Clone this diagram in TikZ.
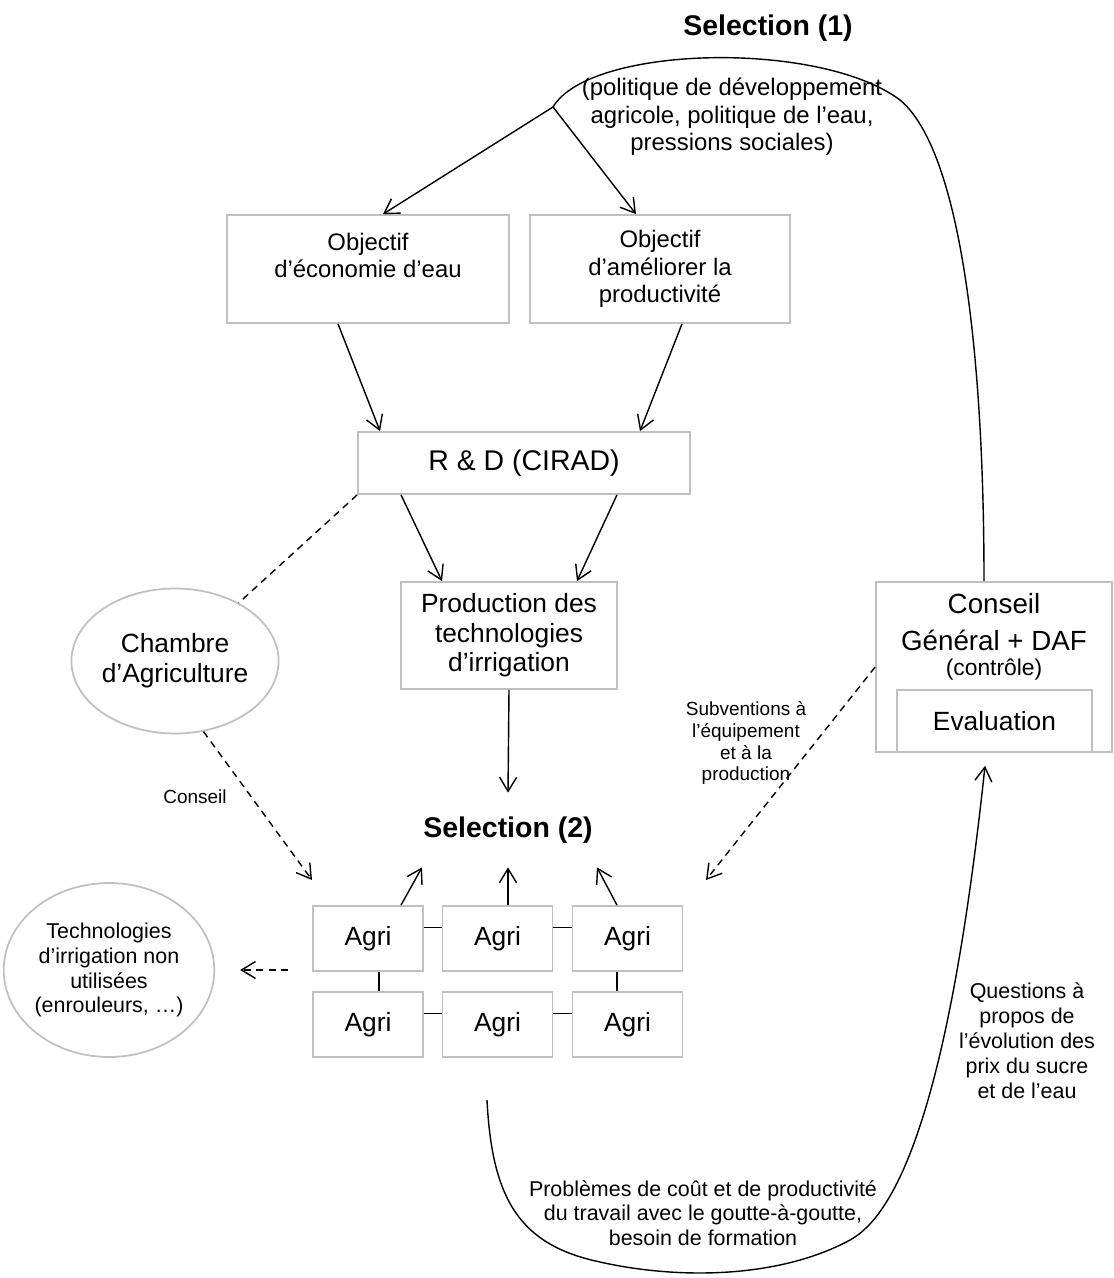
\documentclass[tikz,border=0pt]{standalone}
\usepackage{fontspec}
\setmainfont{Liberation Sans}
\usetikzlibrary{arrows.meta,shapes.geometric}

\definecolor{boxgray}{RGB}{192,192,192}
\newcommand{\fsz}[2]{\fontsize{#1}{#2}\selectfont}

\begin{document}
\begin{tikzpicture}[x=0.02cm,y=-0.02cm,
		box/.style={draw=boxgray,line width=1pt,align=center,inner sep=0pt},
		oval/.style={box,ellipse},
		agri/.style={box,minimum width=2.2cm,minimum height=1.3cm,font=\fsz{15}{17}},
		ttl/.style={font=\fsz{16.2}{19}\bfseries,align=center,inner sep=0pt},
		note/.style={font=\fsz{12.2}{14.2},align=center},
		small/.style={font=\fsz{10.8}{12.5},align=center},
		fl/.style={line width=0.8pt},
		arr/.style={fl,-{Straight Barb[length=0.28cm,width=0.34cm]}},
		dsh/.style={fl,dash pattern=on 4pt off 3pt},
		darr/.style={arr,dash pattern=on 4pt off 3pt}]
		\useasboundingbox (0,0) rectangle (1114,1278);
		\node[ttl] (sel1) at (768,28) {Selection (1)};
		\node[font=\fsz{13.6}{15.6},align=center] (pol) at (732,117) {(politique de développement\\agricole, politique de l’eau,\\pressions sociales)};
		\coordinate (br) at (553,107);
		\node[box,minimum width=5.64cm,minimum height=2.16cm,font=\fsz{13.6}{15.6}] (obj1) at (368,269) {Objectif\\d’économie d’eau\\~};
		\node[box,minimum width=5.2cm,minimum height=2.16cm,font=\fsz{13.6}{15.6}] (obj2) at (660,269) {Objectif\\d’améliorer la\\productivité};
		\node[box,minimum width=6.64cm,minimum height=1.24cm,font=\fsz{16.2}{19}] (rd) at (524,463) {R \& D (CIRAD)};
		\node[box,minimum width=4.32cm,minimum height=2.14cm,font=\fsz{15}{16.7}] (prod) at (509,635.5) {Production des\\technologies\\d’irrigation};
		\node[ttl,minimum height=1.48cm] (sel2) at (508,830) {Selection (2)};
		\node[oval,minimum width=3.88cm,minimum height=2.9cm,font=\fsz{15}{17}] (cha) at (175,661) {Chambre\\d’Agriculture};
		\node[oval,minimum width=3.9cm,minimum height=3.48cm,font=\fsz{12.2}{14.2}] (tech) at (109,970) {Technologies\\d’irrigation non\\utilisées\\(enrouleurs, …)};
		\node[box,minimum width=4.72cm,minimum height=3.4cm] (cg) at (994,667) {};
		\node[font=\fsz{15.8}{18},align=center,inner sep=0pt] (cgl) at (994,637) {Conseil\\[3pt]Général + DAF\\[-4pt]{\fsz{13}{15}(contrôle)}};
		\node[box,minimum width=3.9cm,minimum height=1.24cm,font=\fsz{15}{17}] (eval) at (994.5,721) {Evaluation};
		\foreach \c/\x in {1/368,2/497.5,3/627.5}
			\foreach \r/\y in {1/938.5,2/1024.5}
				\node[agri] (a\r\c) at (\x,\y) {Agri};
		\node[small] (lcons) at (195,797) {Conseil};
		\node[small] (lsubv) at (746,743) {Subventions à\\l’équipement\\et à la\\production};
		\node[note] (lq) at (1027,1041) {Questions à\\propos de\\l’évolution des\\prix du sucre\\et de l’eau};
		\node[note,font=\fsz{12.2}{13.9}] (lp) at (703,1213) {Problèmes de coût et de productivité\\du travail avec le goutte-à-goutte,\\besoin de formation};
		\coordinate (cons) at (312,880);
		\coordinate (subv) at (706,880);
		\coordinate (agrp) at (288,970);
		\coordinate (fb) at (487,1100);
		\draw[arr] (br) -- ([xshift=0.3cm]obj1.north);
		\draw[arr] (br) -- ([xshift=-0.48cm]obj2.north);
		\draw[arr] ([xshift=-0.6cm]obj1.south) -- ([xshift=-2.88cm]rd.north);
		\draw[arr] ([xshift=0.44cm]obj2.south) -- ([xshift=2.32cm]rd.north);
		\draw[arr] ([xshift=-2.46cm]rd.south) -- ([xshift=-1.34cm]prod.north);
		\draw[arr] ([xshift=1.86cm]rd.south) -- ([xshift=1.36cm]prod.north);
		\draw[arr] (prod.south) -- (sel2.north);
		\draw[arr] ([xshift=0.66cm]a11.north) -- ([xshift=-1.72cm]sel2.south);
		\draw[arr] (a12.north -| sel2.south) -- (sel2.south);
		\draw[arr] ([xshift=-0.21cm]a13.north) -- ([xshift=1.78cm]sel2.south);
		\foreach \r in {1,2}{
			\draw[fl] ([yshift=0.22cm]a\r1.east) -- ([yshift=0.22cm]a\r2.west);
			\draw[fl] ([yshift=0.22cm]a\r2.east) -- ([yshift=0.22cm]a\r3.west);
		}
		\draw[fl] ([xshift=0.22cm]a11.south) -- ([xshift=0.22cm]a21.north);
		\draw[fl] ([xshift=-0.21cm]a13.south) -- ([xshift=-0.21cm]a23.north);
		\draw[dsh] (rd.south west) -- (cha);
		\draw[darr] (cha.-68) -- (cons);
		\draw[darr] (cg.west) -- (subv);
		\draw[darr,shorten >=0.5cm] (agrp) -- (tech.east);
		\draw[fl] (br) .. controls (590,45) and (820,40) .. (900,100) .. controls (960,150) and (984,350) .. ([xshift=-0.2cm]cg.north);
		\draw[arr] (fb) .. controls (492,1200) and (520,1245) .. (600,1262) .. controls (680,1280) and (780,1278) .. (850,1240) .. controls (920,1202) and (960,1000) .. ([xshift=-0.19cm,yshift=-0.26cm]eval.south);
\end{tikzpicture}
\end{document}
